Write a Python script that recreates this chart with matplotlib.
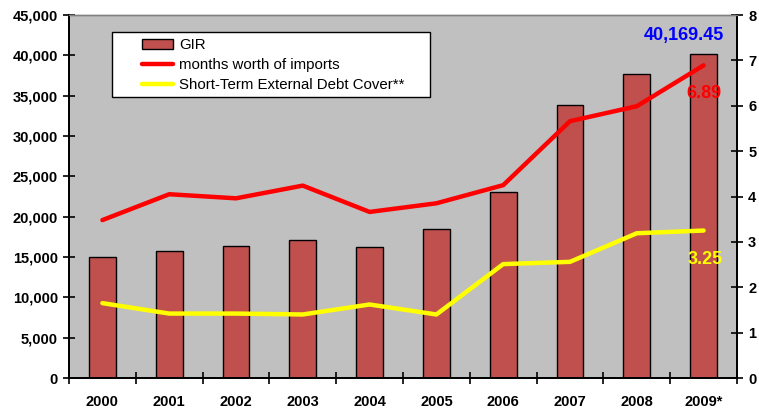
import numpy as np
import matplotlib
matplotlib.use("Agg")
import matplotlib.pyplot as plt
from matplotlib.patches import Rectangle

plt.rcParams["font.family"] = ["Liberation Sans", "DejaVu Sans"]

# data
years = ["2000", "2001", "2002", "2003", "2004", "2005", "2006", "2007", "2008", "2009*"]
gir = [15000, 15790, 16410, 17160, 16210, 18490, 23100, 33870, 37630, 40169.45]
months_imports = [3.48, 4.05, 3.96, 4.24, 3.66, 3.85, 4.25, 5.66, 5.99, 6.89]
st_debt_cover = [1.65, 1.42, 1.42, 1.40, 1.62, 1.40, 2.51, 2.56, 3.19, 3.25]

x = np.arange(len(years))

fig = plt.figure(figsize=(7.59, 4.12), dpi=100)
ax = fig.add_axes([69 / 759, 34 / 412, 668 / 759, 363 / 412])
ax.set_facecolor("#C0C0C0")

bars = ax.bar(x, gir, width=0.4, color="#C0504D", edgecolor="black", linewidth=1, zorder=2)
ax.set_xlim(-0.5, len(years) - 0.5)
ax.set_ylim(0, 45000)
ax.set_yticks(np.arange(0, 45001, 5000))
ax.set_yticklabels([f"{v:,}" for v in range(0, 45001, 5000)])

ax.set_xticks(x)
ax.set_xticklabels(years)
ax.set_xticks(np.arange(-0.5, len(years), 1), minor=True)
ax.tick_params(axis="x", which="major", length=0, pad=12)
ax.tick_params(axis="x", which="minor", direction="inout", length=9, width=1.2)
ax.tick_params(axis="y", direction="inout", length=8, width=1.2, pad=4)
for lbl in ax.get_xticklabels() + ax.get_yticklabels():
    lbl.set_fontweight("bold")
    lbl.set_fontsize(10.5)

ax2 = ax.twinx()
l1, = ax2.plot(x, months_imports, color="#FF0000", linewidth=3.2, solid_capstyle="round", zorder=3)
l2, = ax2.plot(x, st_debt_cover, color="#FFFF00", linewidth=3.2, solid_capstyle="round", zorder=3)
ax2.set_ylim(0, 8)
ax2.set_yticks(np.arange(0, 9, 1))
ax2.tick_params(axis="y", direction="inout", length=8, width=1.2, pad=4)
for lbl in ax2.get_yticklabels():
    lbl.set_fontweight("bold")
    lbl.set_fontsize(10.5)

for a in (ax, ax2):
    for s in ("left", "right", "bottom"):
        a.spines[s].set_color("black")
        a.spines[s].set_linewidth(1.3)
    a.spines["top"].set_color("#808080")
    a.spines["top"].set_linewidth(1)

# data labels for 2009
ax.annotate(f"{gir[-1]:,.2f}", xy=(x[-1], gir[-1]), xytext=(-14, 7), textcoords="offset points",
            ha="center", va="bottom", color="#0000FF", fontsize=13, fontweight="bold")
ax2.annotate(f"{months_imports[-1]:.2f}", xy=(x[-1], months_imports[-1]), xytext=(0, -20),
             textcoords="offset points", ha="center", va="center", color="#FF0000",
             fontsize=13, fontweight="bold")
ax2.annotate(f"{st_debt_cover[-1]:.2f}", xy=(x[-1], st_debt_cover[-1]), xytext=(1, -21),
             textcoords="offset points", ha="center", va="center", color="#FFFF00",
             fontsize=13, fontweight="bold")

# legend box
ax2.add_patch(Rectangle((43 / 668, 281 / 363), 318 / 668, 65 / 363, transform=ax2.transAxes,
                        facecolor="white", edgecolor="black", linewidth=1, zorder=4))
leg = ax2.legend([bars, l1, l2], ["GIR", "months worth of imports", "Short-Term External Debt Cover**"],
                 loc="upper left", bbox_to_anchor=(73 / 668, 340 / 363), frameon=False,
                 fontsize=10.8, borderpad=0, handlelength=2.05, handletextpad=0.4,
                 labelspacing=0.4, borderaxespad=0)
leg.set_zorder(5)

fig.savefig("out.png", dpi=100)
